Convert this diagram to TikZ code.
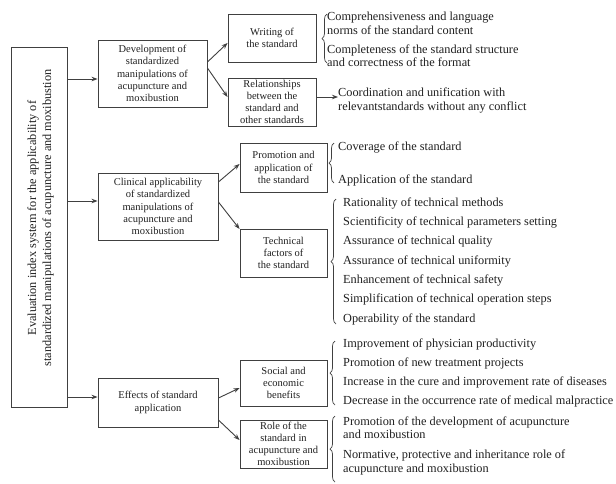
\documentclass[tikz,border=0pt]{standalone}
\usepackage{fontspec}
\setmainfont{Liberation Serif}
\usetikzlibrary{arrows.meta,decorations.pathreplacing}
\definecolor{ln}{HTML}{404040}
\definecolor{tx}{HTML}{202020}
\tikzset{
  box/.style={draw=ln,line width=0.9pt,rectangle,inner sep=1pt,align=center,text=tx,font=\fontsize{10.5}{12.2}\selectfont},
  itm/.style={anchor=west,inner sep=0pt,align=left,text=tx,font=\fontsize{12.3}{13.5}\selectfont},
  arr/.style={draw=ln,line width=0.9pt,-{Stealth[length=6pt,width=4.5pt]}},
  brc/.style={draw=ln,line width=0.7pt,decorate,decoration={brace,amplitude=5pt}}
}
\begin{document}
\begin{tikzpicture}[x=1pt,y=-1pt]
\useasboundingbox[fill=white] (0,0) rectangle (616,483);
% main box
\node[box,minimum width=56pt,minimum height=360pt] (main) at (39,227) {};
\node[rotate=90,align=center,inner sep=0pt,text=tx,font=\fontsize{12.3}{15}\selectfont] (mainlbl) at (40.5,218)
  {Evaluation index system for the applicability of\\standardized manipulations of acupuncture and moxibustion};
% level 2
\node[box,minimum width=109pt,minimum height=67pt] (A) at (152.5,73.5)
  {Development of\\standardized\\manipulations of\\acupuncture and\\moxibustion};
\node[box,minimum width=120pt,minimum height=67pt] (B) at (158,206.5)
  {Clinical applicability\\of standardized\\manipulations of\\acupuncture and\\moxibustion};
\node[box,minimum width=120pt,minimum height=49pt] (C) at (158,402.5)
  {Effects of standard\\application};
% level 3
\node[box,minimum width=88pt,minimum height=48pt] (A1) at (272,38) {Writing of\\the standard};
\node[box,minimum width=88pt,minimum height=48pt] (A2) at (272,102) {Relationships\\between the\\standard and\\other standards};
\node[box,minimum width=87pt,minimum height=49pt] (B1) at (283.5,167.5) {Promotion and\\application of\\the standard};
\node[box,minimum width=87pt,minimum height=48pt] (B2) at (283.5,253) {Technical\\factors of\\the standard};
\node[box,minimum width=87pt,minimum height=46pt] (C1) at (283.5,383) {Social and\\economic\\benefits};
\node[box,minimum width=87pt,minimum height=48pt] (C2) at (283.5,444) {Role of the\\standard in\\acupuncture and\\moxibustion};
% main arrows
\coordinate (ain) at ([yshift=-5.5pt]A.west);
\coordinate (bin) at ([yshift=5.5pt]B.west);
\coordinate (cin) at ([yshift=5.5pt]C.west);
\draw[arr] (main.east |- ain) -- (ain);
\draw[arr] (main.east |- bin) -- (bin);
\draw[arr] (main.east |- cin) -- (cin);
% child arrows
\draw[arr] ([yshift=11.5pt]A.east) -- ([yshift=-5pt]A1.west);
\draw[arr] ([yshift=5.5pt]A.east) -- ([yshift=5pt]A2.west);
\draw[arr] ([yshift=24.5pt]B.east) -- ([yshift=3.5pt]B1.west);
\draw[arr] ([yshift=4.5pt]B.east) -- ([yshift=24pt]B2.west);
\draw[arr] ([yshift=4.5pt]C.east) -- ([yshift=-5pt]C1.west);
\draw[arr] ([yshift=-17.5pt]C.east) -- ([yshift=4pt]C2.west);
% A1 list
\node[itm] (a11) at (327,23.5) {Comprehensiveness and language\\norms of the standard content};
\node[itm] (a12) at (327,55.5) {Completeness of the standard structure\\and correctness of the format};
\draw[brc] (327,63) -- (327,14);
% A2
\node[itm] (a21) at (338,100.5) {Coordination and unification with\\relevantstandards without any conflict};
\draw[arr] ([yshift=5pt]A2.east) -- ([yshift=3.5pt]a21.west);
% B1 list
\node[itm] (b11) at (338,147) {Coverage of the standard};
\node[itm] (b12) at (338,180) {Application of the standard};
\draw[brc] (334,183) -- (334,143);
% B2 list
\node[itm] (b21) at (343,203) {Rationality of technical methods};
\node[itm] (b22) at (343,222.3) {Scientificity of technical parameters setting};
\node[itm] (b23) at (343,241.7) {Assurance of technical quality};
\node[itm] (b24) at (343,261) {Assurance of technical uniformity};
\node[itm] (b25) at (343,280.3) {Enhancement of technical safety};
\node[itm] (b26) at (343,299.7) {Simplification of technical operation steps};
\node[itm] (b27) at (343,319) {Operability of the standard};
\draw[brc] (336,324) -- (336,199);
% C1 list
\node[itm] (c11) at (343,344) {Improvement of physician productivity};
\node[itm] (c12) at (343,363) {Promotion of new treatment projects};
\node[itm] (c13) at (343,382) {Increase in the cure and improvement rate of diseases};
\node[itm] (c14) at (343,401) {Decrease in the occurrence rate of medical malpractice};
\draw[brc] (335,405) -- (335,341);
% C2 list
\node[itm] (c21) at (343,427.5) {Promotion of the development of acupuncture\\and moxibustion};
\node[itm] (c22) at (343,462.5) {Normative, protective and inheritance role of\\acupuncture and moxibustion};
\draw[brc] (335,482) -- (335,416);
\end{tikzpicture}
\end{document}
